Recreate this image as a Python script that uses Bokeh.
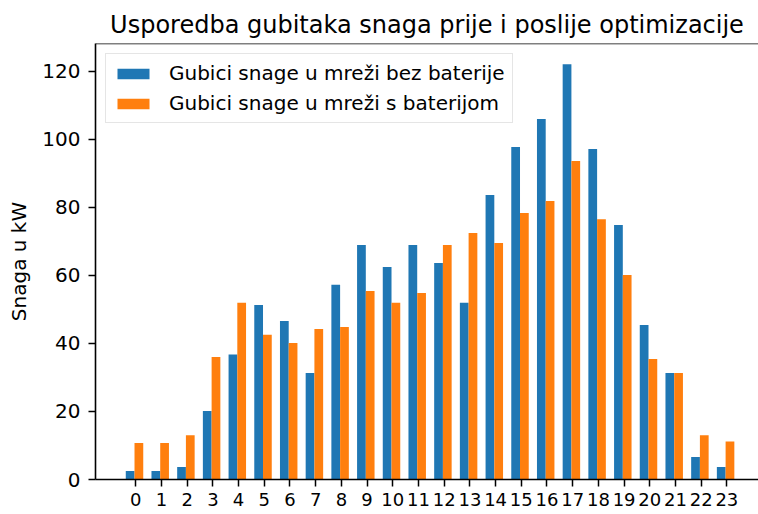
from bokeh.plotting import figure
from bokeh.models import ColumnDataSource, Range1d, FixedTicker, Span
from bokeh.transform import dodge
from bokeh.embed import file_html
from bokeh.resources import INLINE

hours = list(range(24))
loss_without_battery = [2.5, 2.5, 3.7, 20.1, 36.7, 51.3, 46.6, 31.3, 57.2, 68.9, 62.4, 68.9,
                        63.6, 51.9, 83.6, 97.7, 105.9, 122.0, 97.1, 74.8, 45.4, 31.3, 6.6, 3.7]
loss_with_battery = [10.7, 10.7, 13.0, 36.0, 51.9, 42.5, 40.1, 44.2, 44.8, 55.4, 51.9, 54.8,
                     68.9, 72.4, 69.5, 78.3, 81.8, 93.6, 76.5, 60.1, 35.4, 31.3, 13.0, 11.2]
y_ticks = [0, 20, 40, 60, 80, 100, 120]

title_text = "Usporedba gubitaka snaga prije i poslije optimizacije"
label_without = "Gubici snage u mreži bez baterije"
label_with = "Gubici snage u mreži s baterijom"
y_label = "Snaga u kW"

src = ColumnDataSource(dict(hour=hours, without=loss_without_battery, withb=loss_with_battery))

FONT = "DejaVu Sans"
Y_TOP = 128.1

p = figure(width=758, height=514, output_backend="svg", toolbar_location=None,
           x_range=Range1d(-1.568, 24.23), y_range=Range1d(0, Y_TOP),
           min_border_left=95, min_border_right=0, min_border_top=43, min_border_bottom=35)

p.vbar(x=dodge("hour", -0.22), top="without", width=0.34, bottom=0, source=src,
       color="#1f77b4", line_color=None, legend_label=label_without)
p.vbar(x=dodge("hour", 0.12), top="withb", width=0.34, bottom=0, source=src,
       color="#ff7f0e", line_color=None, legend_label=label_with)

p.title.text = title_text
p.title.text_font = FONT
p.title.text_font_size = "24px"
p.title.text_font_style = "normal"
p.title.text_color = "#000000"
p.title.align = "center"
p.title.standoff = 9
p.title.offset = 3

p.outline_line_color = None
p.xgrid.visible = False
p.ygrid.visible = False
p.background_fill_color = "white"
p.border_fill_color = "white"

top_spine = Span(location=Y_TOP, dimension="width", line_color="#000000", line_width=1.6)
p.add_layout(top_spine)

for ax in (p.xaxis[0], p.yaxis[0]):
    ax.axis_line_color = "#000000"
    ax.axis_line_width = 1.6
    ax.major_tick_line_color = "#000000"
    ax.major_tick_line_width = 1.5
    ax.major_tick_out = 7
    ax.major_tick_in = 0
    ax.minor_tick_line_color = None
    ax.major_label_text_font = FONT
    ax.major_label_text_color = "#000000"

p.xaxis.ticker = FixedTicker(ticks=hours)
p.xaxis.major_label_standoff = 6
p.xaxis.major_label_text_font_size = "18px"
p.yaxis.ticker = FixedTicker(ticks=y_ticks)
p.yaxis.major_label_standoff = 8
p.yaxis.major_label_text_font_size = "20px"

p.yaxis.axis_label = y_label
p.yaxis.axis_label_text_font = FONT
p.yaxis.axis_label_text_font_size = "20px"
p.yaxis.axis_label_text_font_style = "normal"
p.yaxis.axis_label_text_color = "#000000"
p.yaxis.axis_label_standoff = 8

lg = p.legend[0]
lg.location = "top_left"
lg.margin = 10
lg.padding = 7
lg.spacing = 6
lg.glyph_width = 40
lg.glyph_height = 13
lg.label_height = 24
lg.label_standoff = 16
lg.label_text_font = FONT
lg.label_text_font_size = "20px"
lg.label_text_color = "#000000"
lg.border_line_color = "#cccccc"
lg.border_line_width = 1
lg.background_fill_color = "white"
lg.background_fill_alpha = 0.8

open("out.html", "w").write(file_html(p, INLINE))
